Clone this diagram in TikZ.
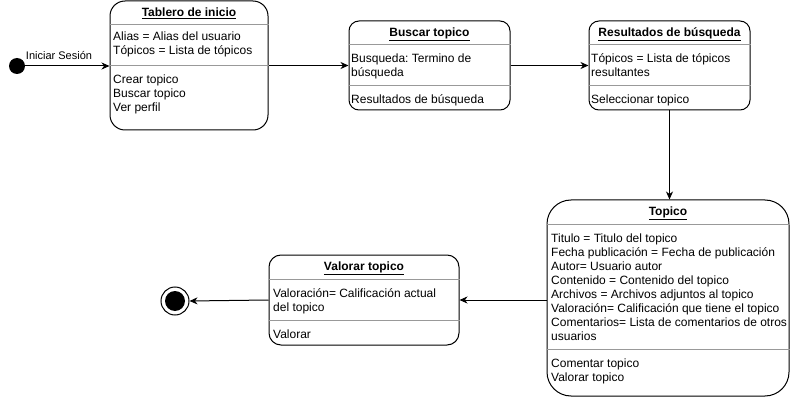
\documentclass[tikz,border=0pt]{standalone}
\usepackage{fontspec}
\setmainfont{Liberation Sans}
\usetikzlibrary{arrows.meta}
\frenchspacing
\begin{document}
\begin{tikzpicture}[x=1pt,y=-1pt,
  statebox/.style={draw=black, line width=1pt, inner sep=0, fill=white},
  divider/.style={draw=black!40, line width=0.8pt},
  txt/.style={anchor=base west, inner sep=0, font=\fontsize{12}{14}\selectfont},
  ttl/.style={anchor=base, inner sep=0, font=\fontsize{12}{14}\selectfont\bfseries},
  conn/.style={line width=1pt, -{Stealth[length=8pt,width=7pt,inset=2.5pt]}},
]
\useasboundingbox[fill=white] (0,0) rectangle (793,401);

% initial state
\node[circle, fill=black, minimum size=16, inner sep=0] (init) at (17,66) {};
\node[anchor=base, inner sep=0, font=\fontsize{11}{13}\selectfont] (lbl) at (59,59.5) {Iniciar Sesión};

% Tablero de inicio
\node[statebox, rounded corners=15, minimum width=158, minimum height=129] (tab) at (189,65.5) {};
\draw[divider] (tab.west |- 0,24) -- (tab.east |- 0,24);
\draw[divider] (tab.west |- 0,65) -- (tab.east |- 0,65);
\node[ttl] (tabt) at (189,16.5) {\underline{Tablero de inicio}};
\node[txt] (tab1) at (113,40.5) {Alias = Alias del usuario};
\node[txt] (tab2) at (113,54.5) {Tópicos = Lista de tópicos};
\node[txt] (tab3) at (113,84) {Crear topico};
\node[txt] (tab4) at (113,98) {Buscar topico};
\node[txt] (tab5) at (113,112) {Ver perfil};

% Buscar topico
\node[statebox, rounded corners=10, minimum width=161, minimum height=89] (bus) at (429.5,65.5) {};
\draw[divider] (bus.west |- 0,44) -- (bus.east |- 0,44);
\draw[divider] (bus.west |- 0,85) -- (bus.east |- 0,85);
\node[ttl] (bust) at (429.5,36.5) {\underline{Buscar topico}};
\node[txt] (bus1) at (351,62.5) {Busqueda: Termino de};
\node[txt] (bus2) at (351,76.5) {búsqueda};
\node[txt] (bus3) at (351,103.5) {Resultados de búsqueda};

% Resultados de busqueda
\node[statebox, rounded corners=10, minimum width=161, minimum height=89] (res) at (669.5,65.5) {};
\draw[divider] (res.west |- 0,44) -- (res.east |- 0,44);
\draw[divider] (res.west |- 0,85) -- (res.east |- 0,85);
\node[ttl] (rest) at (669.5,36.5) {\underline{Resultados de búsqueda}};
\node[txt] (res1) at (591,62.5) {Tópicos = Lista de tópicos};
\node[txt] (res2) at (591,76.5) {resultantes};
\node[txt] (res3) at (591,103.5) {Seleccionar topico};

% Topico
\node[statebox, rounded corners=24, minimum width=242, minimum height=196] (top) at (668,298) {};
\draw[divider] (top.west |- 0,224) -- (top.east |- 0,224);
\draw[divider] (top.west |- 0,349) -- (top.east |- 0,349);
\node[ttl] (topt) at (668,215.5) {\underline{Topico}};
\node[txt] (top1) at (551,242.5) {Titulo = Titulo del topico};
\node[txt] (top2) at (551,256.5) {Fecha publicación = Fecha de publicación};
\node[txt] (top3) at (551,270.5) {Autor= Usuario autor};
\node[txt] (top4) at (551,284.5) {Contenido = Contenido del topico};
\node[txt] (top5) at (551,298.5) {Archivos = Archivos adjuntos al topico};
\node[txt] (top6) at (551,312.5) {Valoración= Calificación que tiene el topico};
\node[txt] (top7) at (551,326.5) {Comentarios= Lista de comentarios de otros};
\node[txt] (top8) at (551,340.5) {usuarios};
\node[txt] (top9) at (551,367.5) {Comentar topico};
\node[txt] (top10) at (551,381.5) {Valorar topico};

% Valorar topico
\node[statebox, rounded corners=12, minimum width=190, minimum height=90] (val) at (364,300) {};
\draw[divider] (val.west |- 0,279) -- (val.east |- 0,279);
\draw[divider] (val.west |- 0,320) -- (val.east |- 0,320);
\node[ttl] (valt) at (364,270.5) {\underline{Valorar topico}};
\node[txt] (val1) at (273,297.5) {Valoración= Calificación actual};
\node[txt] (val2) at (273,311.5) {del topico};
\node[txt] (val3) at (273,338.5) {Valorar};

% final state
\node[circle, draw=black, line width=1pt, fill=white, minimum size=28, inner sep=0] (fin) at (175,301) {};
\node[circle, fill=black, minimum size=20, inner sep=0] (finin) at (fin.center) {};

% connectors
\draw[conn] (init.east) -- (init.east -| tab.west);
\draw[conn] (tab.east) -- (bus.west);
\draw[conn] (bus.east) -- (res.west);
\draw[conn] (res.south) -- (res.south |- top.north);
\draw[conn] (top.west |- val.east) -- (val.east);
\draw[conn] (val.west) -- (fin.east);
\end{tikzpicture}
\end{document}
